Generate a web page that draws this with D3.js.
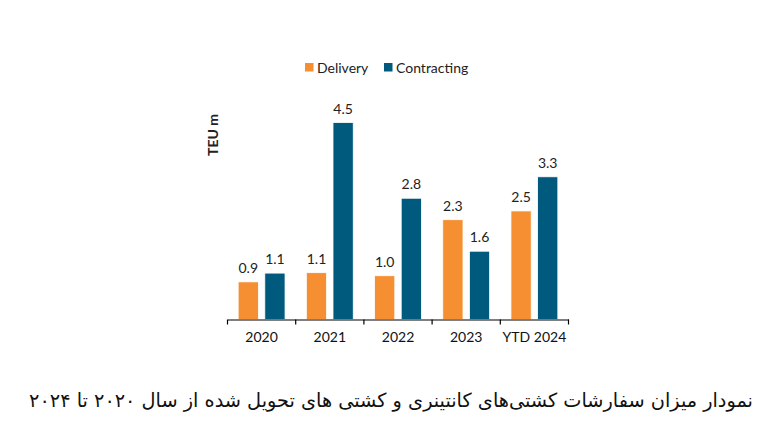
<!DOCTYPE html>
<html><head><meta charset="utf-8">
<script src="https://cdn.jsdelivr.net/npm/d3@7"></script>
<style>body{margin:0;background:#fff;}svg{display:block;}</style>
</head><body><div id="chart"></div>
<script>
const categories = ["2020","2021","2022","2023","YTD 2024"];
const seriesNames = ["Delivery","Contracting"];
const delivery = [0.86, 1.07, 1.0, 2.28, 2.48];
const contracting = [1.06, 4.5, 2.77, 1.56, 3.26];
const colors = ["#F58F31","#005A7E"];
const title = "نمودار میزان سفارشات کشتی‌های کانتینری و کشتی های تحویل شده از سال ۲۰۲۰ تا ۲۰۲۴";

const W = 783, H = 439;
const svg = d3.select("#chart").append("svg").attr("width", W).attr("height", H);
const font = "Lato, 'Open Sans', sans-serif";

const x = d3.scaleBand().domain(categories).range([227.5, 568.5]).paddingInner(0).paddingOuter(0);
const x1 = d3.scaleBand().domain(seriesNames).range([0, x.bandwidth()]).paddingInner(0.24).paddingOuter(0.4);
const y = d3.scaleLinear().domain([0, 4.5]).range([319.5, 122.5]);

const data = categories.map((c, i) => ({cat: c, vals: [delivery[i], contracting[i]]}));

const g = svg.append("g");
data.forEach(d => {
  d.vals.forEach((v, j) => {
    const bx = x(d.cat) + x1(seriesNames[j]);
    g.append("rect")
      .attr("x", bx).attr("y", y(v))
      .attr("width", x1.bandwidth()).attr("height", y(0) - y(v))
      .attr("fill", colors[j]).attr("stroke", "#fff").attr("stroke-width", 0.8);
    g.append("text")
      .attr("x", bx + x1.bandwidth() / 2).attr("y", y(v) - 9)
      .attr("text-anchor", "middle")
      .attr("font-family", font).attr("font-size", 14).attr("fill", "#222")
      .text(v.toFixed(1));
  });
});

// x axis
const xAxis = d3.axisBottom(x).tickSize(0).tickFormat(d => d);
const ax = svg.append("g").attr("transform", "translate(0,319.5)").call(xAxis);
ax.select(".domain").attr("stroke", "#000").attr("stroke-width", 1.2);
ax.selectAll("text").attr("font-family", font).attr("font-size", 14).attr("fill", "#111").attr("dy", "1.4em");
// category boundary ticks
const bounds = categories.map(c => x(c)).concat([x(categories[categories.length-1]) + x.bandwidth()]);
svg.append("g").selectAll("line").data(bounds).join("line")
  .attr("x1", d => d).attr("x2", d => d).attr("y1", 319.5).attr("y2", 324.5)
  .attr("stroke", "#000").attr("stroke-width", 1.2);

// y axis title
svg.append("text")
  .attr("transform", "translate(218,135) rotate(-90)")
  .attr("text-anchor", "middle")
  .attr("font-family", font).attr("font-size", 14).attr("font-weight", "bold").attr("fill", "#222")
  .text("TEU m");

// legend
const legend = svg.append("g");
const legendItems = [{name: seriesNames[0], x: 305}, {name: seriesNames[1], x: 384}];
legendItems.forEach((it, i) => {
  legend.append("rect").attr("x", it.x).attr("y", 63).attr("width", 8.5).attr("height", 8.5).attr("fill", colors[i]);
  legend.append("text").attr("x", it.x + 12).attr("y", 72.5)
    .attr("font-family", font).attr("font-size", 14).attr("fill", "#222").text(it.name);
});

// title
svg.append("text")
  .attr("x", 391).attr("y", 407)
  .attr("text-anchor", "middle")
  .attr("direction", "rtl")
  .attr("font-family", "'DejaVu Sans', sans-serif").attr("font-size", 19.3).attr("fill", "#111")
  .text(title);
</script></body></html>
